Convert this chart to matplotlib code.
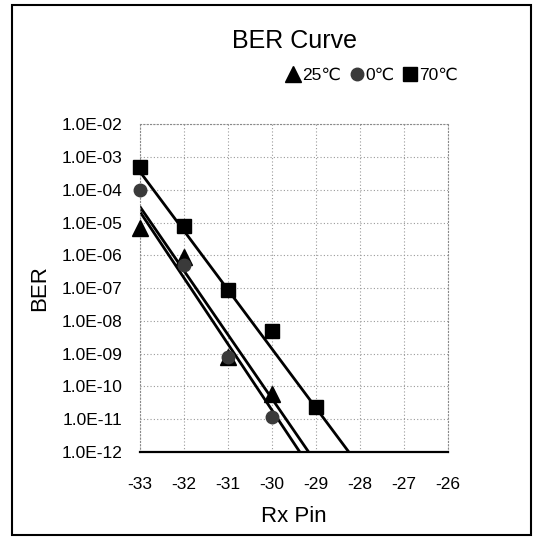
import matplotlib
matplotlib.use("Agg")

import numpy as np
import matplotlib.pyplot as plt
from matplotlib.patches import Rectangle
from matplotlib.ticker import FixedLocator, FuncFormatter

plt.rcParams['font.family'] = ['Liberation Sans', 'DejaVu Sans']
plt.rcParams['axes.unicode_minus'] = False

# Rx Pin (dBm) and BER
rx_pin = [-33, -32, -31, -30, -29]
ber_25c = [7e-06, 9e-07, 8e-10, 6e-11]
ber_0c = [1e-04, 5e-07, 8e-10, 1.2e-11]
ber_70c = [5e-04, 8e-06, 8.5e-08, 5e-09, 2.3e-11]

# trendlines as they appear in the scan: BER at -33 and at -29 dBm
trend_x = [-33, -29]
trend_25c = [3.0e-05, 4.7e-13]
trend_0c = [2.1e-05, 1.8e-13]
trend_70c = [3.5e-04, 2.2e-11]

series = [
    ("25℃", ber_25c, trend_25c, "^", "black", 11),
    ("0℃", ber_0c, trend_0c, "o", "#3a3a3a", 9),
    ("70℃", ber_70c, trend_70c, "s", "black", 10),
]

fig = plt.figure(figsize=(5.43, 5.40), dpi=100)
ax = fig.add_axes([0.258, 0.163, 0.567, 0.607])

x_line = np.linspace(-33, -27, 50)
for label, ber, trend, marker, color, ms in series:
    x = np.array(rx_pin[:len(ber)], dtype=float)
    k, b = np.polyfit(trend_x, np.log10(trend), 1)
    ax.plot(x_line, 10 ** (k * x_line + b), color="black", lw=2.0, zorder=2)
    ax.plot(x, ber, linestyle="none", marker=marker, color=color,
            markersize=ms, label=label, zorder=3, clip_on=False)

ax.set_yscale("log")
ax.set_xlim(-33, -26)
ax.set_ylim(1e-12, 1e-02)

ax.xaxis.set_major_locator(FixedLocator(range(-33, -25)))
ax.yaxis.set_major_locator(FixedLocator([10.0 ** e for e in range(-12, -1)]))
ax.yaxis.set_minor_locator(FixedLocator([]))
ax.yaxis.set_major_formatter(
    FuncFormatter(lambda v, p: "1.0E-%02d" % round(-np.log10(v))))
ax.tick_params(axis="both", length=0, labelsize=12.5)
ax.tick_params(axis="x", pad=18)
ax.tick_params(axis="y", pad=13)

ax.grid(True, color="#9a9a9a", linestyle=(0, (1, 2)), linewidth=0.8)
for side in ["left", "top", "right"]:
    ax.spines[side].set_color("#8a8a8a")
    ax.spines[side].set_linestyle((0, (1, 2)))
ax.spines["bottom"].set_linewidth(1.6)

ax.set_xlabel("Rx Pin", fontsize=16, labelpad=10)
ax.set_ylabel("BER", fontsize=16, labelpad=8)
fig.text(0.542, 0.925, "BER Curve", fontsize=18, ha="center", va="center")

fig.legend(*ax.get_legend_handles_labels(), loc="center", bbox_to_anchor=(0.685, 0.861),
           ncol=3, frameon=False, fontsize=12.5, handlelength=0.8, handletextpad=0.1,
           columnspacing=0.5, borderaxespad=0)

fig.patches.append(Rectangle((0.022, 0.01), 0.956, 0.98, transform=fig.transFigure,
                             fill=False, edgecolor="black", linewidth=1.5))

fig.savefig("out.png", dpi=100)
plt.close(fig)
